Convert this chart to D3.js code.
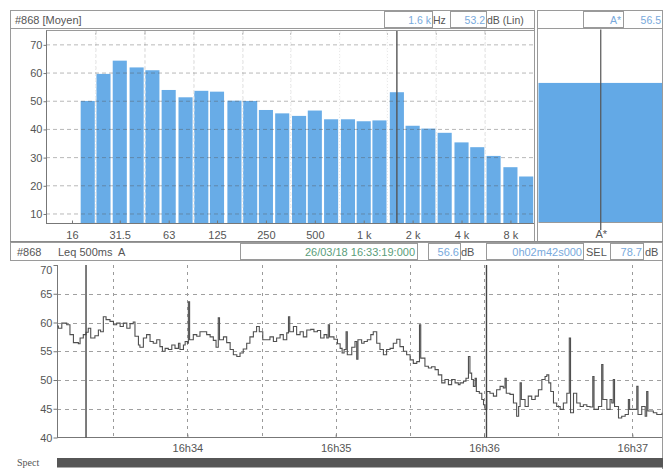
<!DOCTYPE html>
<html>
<head>
<meta charset="utf-8">
<script src="https://cdn.jsdelivr.net/npm/d3@7"></script>
<style>
  body { margin: 0; background: #fff; }
  svg { display: block; font-family: "Liberation Sans", Arial, sans-serif; }
</style>
</head>
<body>
<svg id="chart" width="666" height="469"></svg>
<script>
// ---- 1/3-octave average spectrum, dB (Lin) ----
const bandFreqs  = [20, 25, 31.5, 40, 50, 63, 80, 100, 125, 160, 200, 250, 315, 400, 500, 630, 800,
                    1000, 1250, 1600, 2000, 2500, 3150, 4000, 5000, 6300, 8000, 10000];
const bandLevels = [50.1, 59.7, 64.4, 62.0, 61.0, 54.0, 51.4, 53.7, 53.4, 50.2, 50.1, 46.9, 45.7, 44.8, 46.7, 43.6, 43.6,
                    42.9, 43.2, 53.2, 41.3, 40.3, 38.8, 35.4, 33.7, 30.6, 26.6, 23.3];
const octaveTicks  = [16, 31.5, 63, 125, 250, 500, 1000, 2000, 4000, 8000];
const octaveLabels = ["16", "31.5", "63", "125", "250", "500", "1 k", "2 k", "4 k", "8 k"];
const octaveEdges  = [22.4, 45, 90, 180, 355, 710, 1400, 2800, 5600];
const spectrumTicks = [10, 20, 30, 40, 50, 60, 70];
const cursorFreq = 1600, cursorFreqText = "1.6 k", cursorLevelText = "53.2";
const globalLabel = "A*", globalLevel = 56.5, globalText = "56.5";

// ---- Leq 500ms A time history (seconds after 16:33:00) ----
const leqSecs = [
  7.3, 7.8, 9.2, 11.2, 12.5, 13.9, 15.9, 16.6, 17.9, 19.0,
  19.9, 20.9, 22.6, 24.0, 24.9, 26.0, 27.1, 28.7, 30.1, 31.4,
  32.8, 34.1, 35.5, 36.8, 38.1, 38.8, 40.2, 40.8, 42.2, 43.5,
  44.9, 46.2, 47.6, 48.9, 49.9, 51.0, 52.3, 53.7, 55.0, 56.4,
  57.0, 58.4, 59.1, 60.0, 60.4, 60.9, 62.4, 63.8, 65.1, 66.5,
  67.8, 69.2, 70.5, 71.6, 72.5, 73.0, 74.6, 75.9, 77.3, 78.6,
  80.0, 81.3, 82.6, 84.0, 85.3, 86.7, 88.0, 89.1, 90.5, 92.1,
  93.4, 94.8, 96.1, 97.5, 98.8, 100.2, 100.9, 101.4, 102.9, 104.2,
  105.6, 106.9, 108.3, 109.9, 111.2, 112.6, 113.9, 115.3, 116.4, 117.0,
  117.5, 119.3, 120.7, 121.8, 122.6, 123.4, 124.2, 124.7, 126.5, 127.8,
  128.5, 129.0, 130.5, 131.5, 132.8, 134.2, 135.2, 136.6, 137.9, 139.3,
  140.6, 142.0, 143.3, 144.7, 146.0, 147.4, 148.7, 150.1, 151.4, 152.8,
  153.9, 154.4, 156.1, 157.5, 158.8, 160.2, 161.5, 162.9, 164.2, 165.6,
  166.9, 168.3, 169.6, 170.3, 171.7, 172.7, 173.7, 174.3, 175.0, 175.7,
  176.4, 176.9, 178.1, 179.1, 179.8, 180.4, 181.1, 182.4, 183.8, 185.1,
  186.5, 187.8, 188.5, 189.0, 190.5, 191.9, 193.2, 194.0, 194.6, 195.1,
  196.6, 197.9, 199.3, 200.7, 202.0, 203.4, 204.7, 205.4, 206.2, 207.0,
  208.1, 209.4, 210.8, 212.1, 213.5, 214.5, 215.0, 216.2, 217.5, 218.9,
  220.2, 221.6, 222.9, 224.0, 224.5, 226.3, 227.6, 228.1, 229.7, 231.0,
  231.7, 232.3, 232.8, 234.4, 235.7, 237.1, 238.4, 238.9, 239.8, 241.8,
  242.3, 243.8, 245.2, 245.8, 246.3, 247.2, 248.5, 249.9, 252.0
];
const leqLevels = [
  59.4, 59.0, 59.9, 59.6, 57.9, 56.5, 56.3, 57.3, 57.9, 58.3,
  59.0, 57.3, 57.7, 58.7, 58.4, 61.0, 60.5, 60.2, 59.6, 59.9,
  59.3, 59.9, 59.0, 59.8, 60.1, 57.6, 56.1, 55.7, 57.3, 57.9,
  56.7, 56.4, 57.0, 55.8, 55.0, 55.5, 55.3, 56.1, 55.5, 56.4,
  55.3, 56.1, 56.7, 56.4, 63.6, 57.0, 57.9, 57.6, 58.4, 58.4,
  57.9, 57.5, 56.9, 55.7, 60.8, 57.0, 57.5, 56.5, 55.3, 54.4,
  54.1, 54.7, 55.4, 56.4, 57.5, 58.4, 59.3, 58.4, 57.0, 57.0,
  57.5, 56.7, 57.3, 57.9, 57.0, 58.2, 61.0, 58.4, 59.3, 57.9,
  58.4, 57.5, 58.7, 58.8, 58.4, 58.6, 57.3, 57.9, 57.3, 59.6,
  57.5, 57.1, 56.3, 55.5, 54.7, 55.3, 58.4, 54.4, 55.7, 56.7,
  53.6, 57.0, 56.4, 56.7, 57.0, 57.9, 58.4, 56.4, 55.3, 54.4,
  55.3, 55.5, 56.4, 57.1, 55.8, 55.0, 54.4, 53.5, 52.9, 53.2,
  59.6, 53.8, 52.4, 52.1, 52.3, 51.8, 50.9, 49.5, 50.1, 49.2,
  50.1, 49.5, 49.2, 49.5, 49.8, 50.3, 54.1, 51.2, 50.1, 48.9,
  50.3, 48.0, 47.7, 46.6, 45.7, 44.9, 48.0, 47.7, 47.2, 48.3,
  48.9, 48.6, 50.3, 47.7, 47.5, 46.0, 43.7, 45.4, 49.5, 46.6,
  45.4, 47.2, 46.6, 47.2, 48.3, 50.1, 50.6, 50.9, 49.5, 48.0,
  46.0, 45.4, 44.9, 46.0, 47.7, 57.3, 44.3, 47.7, 46.0, 45.4,
  45.7, 45.4, 45.3, 50.6, 44.9, 45.4, 52.7, 46.6, 44.9, 46.6,
  46.0, 50.1, 45.4, 43.4, 43.7, 44.0, 46.6, 44.9, 44.9, 48.9,
  44.0, 45.4, 43.7, 48.0, 44.6, 44.6, 44.3, 44.0, 44.3
];
const leqTicks = [40, 45, 50, 55, 60, 65, 70];
const startText = "26/03/18 16:33:19:000", durationText = "0h02m42s000";
const leqText = "56.6", selText = "78.7";
const cursorSecs = [19, 181];
const viewSecs = [7.26, 252.0];

// ---- drawing ----
const svg = d3.select("#chart");
const frame = "#9a9a9a", textCol = "#555", blueTxt = "#78a9dc", greenTxt = "#5a9d7a";
const barFill = "#68ace7";
const baseTime = new Date(2018, 2, 26, 16, 33, 0);
const toTime = s => new Date(baseTime.getTime() + s * 1000);

function hline(g, x1, x2, y, stroke, w, dash) {
  return g.append("line").attr("x1", x1).attr("x2", x2).attr("y1", y).attr("y2", y)
    .attr("stroke", stroke).attr("stroke-width", w || 1).attr("stroke-dasharray", dash || null);
}
function vline(g, x, y1, y2, stroke, w, dash) {
  return g.append("line").attr("x1", x).attr("x2", x).attr("y1", y1).attr("y2", y2)
    .attr("stroke", stroke).attr("stroke-width", w || 1).attr("stroke-dasharray", dash || null);
}
function txt(g, x, y, s, fill, size, anchor) {
  return g.append("text").attr("x", x).attr("y", y).text(s)
    .attr("fill", fill).attr("font-size", size).attr("text-anchor", anchor || "start");
}
function box(g, x, y, w, h) {
  g.append("rect").attr("x", x).attr("y", y).attr("width", w).attr("height", h)
    .attr("fill", "none").attr("stroke", frame).attr("stroke-width", 1);
}

// ===== upper panel: spectrum =====
const gTop = svg.append("g");
const xF = d3.scaleLog().domain([11.07, 11660]).range([46, 537]);
const yS = d3.scaleLinear().domain([6.8, 75.1]).range([223, 30.5]);
const plotT = 30.5, plotB = 223, plotL = 46, plotR = 534;

// header row
box(gTop, 10.5, 10.5, 524, 18);
box(gTop, 537.5, 10.5, 125, 18);
txt(gTop, 15, 23.5, "#868 [Moyen]", textCol, "11px");
box(gTop, 384.5, 11.5, 48, 16);
txt(gTop, 431, 23.5, cursorFreqText, blueTxt, "10.5px", "end");
txt(gTop, 433, 23.5, "Hz", textCol, "10.5px");
box(gTop, 450.5, 11.5, 36, 16);
txt(gTop, 485, 23.5, cursorLevelText, blueTxt, "10.5px", "end");
txt(gTop, 487, 23.5, "dB (Lin)", textCol, "10.5px");
box(gTop, 583.5, 11.5, 40, 16);
txt(gTop, 621, 23.5, globalLabel, blueTxt, "10.5px", "end");
txt(gTop, 661, 23.5, globalText, blueTxt, "10.5px", "end");

// panel borders
vline(gTop, 10.5, 10.5, 242, frame);
vline(gTop, 662.5, 10.5, 469, frame);
vline(gTop, 534.5, 10.5, 242, frame);
vline(gTop, 537.5, 10.5, 242, frame);
hline(gTop, 10, 663, 242, "#8a8a8a", 2);

// vertical gridlines under bars (octave band edges)
octaveEdges.forEach(f => {
  vline(gTop, xF(f), plotT, plotB, "#a8a8a8", 1, "3,3");
  vline(gTop, xF(f), plotT, plotT + 4, "#888", 1);
});

// bars
gTop.append("g").selectAll("rect").data(bandFreqs).join("rect")
  .attr("x", (f) => xF(f * Math.pow(2, -1 / 6)) + 1.1)
  .attr("width", (f) => xF(f * Math.pow(2, 1 / 6)) - xF(f * Math.pow(2, -1 / 6)) - 2.2)
  .attr("y", (f, i) => yS(bandLevels[i]))
  .attr("height", (f, i) => plotB - yS(bandLevels[i]))
  .attr("fill", barFill);

// gridlines over bars
octaveEdges.forEach(f => vline(gTop, xF(f), plotT, plotB, "#ffffff", 1, "3,3"));
spectrumTicks.forEach(v => hline(gTop, plotL, plotR, yS(v), "#555", 1, "4,3").attr("stroke-opacity", 0.42));

// frequency cursor
vline(gTop, xF(cursorFreq), plotT, plotB, "#555", 1.4);

// axes
hline(gTop, plotL, plotR, plotT, frame);
const yAxisTop = gTop.append("g").attr("transform", `translate(${plotL + 0.5},0)`)
  .call(d3.axisLeft(yS).tickValues(spectrumTicks).tickSize(3).tickPadding(1).tickFormat(d3.format("d")));
const xAxisTop = gTop.append("g").attr("transform", `translate(0,${plotB + 0.5})`)
  .call(d3.axisBottom(xF).tickValues(octaveTicks).tickSize(-3).tickPadding(8)
        .tickFormat((d, i) => octaveLabels[i]));
[yAxisTop, xAxisTop].forEach(a => {
  a.select(".domain").attr("stroke", "#777");
  a.selectAll(".tick line").attr("stroke", "#777");
  a.selectAll("text").attr("fill", textCol).attr("font-size", "11px")
    .attr("font-family", "'Liberation Sans', Arial, sans-serif");
});
xAxisTop.select(".domain").attr("d", `M${plotL},0H${plotR}`);
yAxisTop.select(".domain").attr("d", `M0,${plotT}V${plotB}`);

// right panel: global A-weighted level
const gx0 = 538.5, gx1 = 662;
gTop.append("rect").attr("x", gx0).attr("width", gx1 - gx0)
  .attr("y", yS(globalLevel)).attr("height", plotB - 1 - yS(globalLevel)).attr("fill", "#63a9e6");
hline(gTop, gx0, gx1, plotB - 0.5, frame);
vline(gTop, (gx0 + gx1) / 2 + 0.5, 29.5, 230, "#555", 1.2);
txt(gTop, (gx0 + gx1) / 2 + 1, 237.5, globalLabel, textCol, "11px", "middle");

// ===== lower panel: Leq time history =====
const gBot = svg.append("g");
const xT = d3.scaleTime().domain(viewSecs.map(toTime)).range([57, 662]);
const yL = d3.scaleLinear().domain([40, 70]).range([437.5, 265]);
const bL = 57, bR = 662, bT = 265, bB = 437.5;

// header row
box(gBot, 10.5, 242.5, 652, 18);
txt(gBot, 17, 255.5, "#868", textCol, "11px");
txt(gBot, 58, 255.5, "Leq 500ms  A", textCol, "11px").style("white-space", "pre");
box(gBot, 240.5, 243.5, 177, 16);
txt(gBot, 415, 255.5, startText, greenTxt, "11px", "end");
box(gBot, 428.5, 243.5, 32, 16);
txt(gBot, 459, 255.5, leqText, blueTxt, "11px", "end");
txt(gBot, 461, 255.5, "dB", textCol, "11px");
box(gBot, 486.5, 243.5, 97, 16);
txt(gBot, 582, 255.5, durationText, blueTxt, "11px", "end");
txt(gBot, 586, 255.5, "SEL", textCol, "11px");
box(gBot, 610.5, 243.5, 33, 16);
txt(gBot, 642, 255.5, selText, blueTxt, "11px", "end");
txt(gBot, 645, 255.5, "dB", textCol, "11px");

// gridlines
const halfMinutes = d3.timeSecond.every(30).range(xT.domain()[0], xT.domain()[1]);
halfMinutes.forEach(d => vline(gBot, Math.round(xT(d)) + 0.5, bT, bB, "#9a9a9a", 1, "3,4"));
[45, 50, 55, 60, 65].forEach(v => hline(gBot, bL, bR, Math.round(yL(v)) + 0.5, "#a0a0a0", 1, "4,4"));

// axes
const yAxisBot = gBot.append("g").attr("transform", `translate(${bL + 0.5},0)`)
  .call(d3.axisLeft(yL).tickValues(leqTicks).tickSize(4).tickPadding(1).tickFormat(d3.format("d")));
const minutes = d3.timeMinute.every(1).range(xT.domain()[0], xT.domain()[1]);
const xAxisBot = gBot.append("g").attr("transform", `translate(0,${bB})`)
  .call(d3.axisBottom(xT).tickValues(minutes).tickSize(-3).tickPadding(7)
        .tickFormat(d3.timeFormat("%Hh%M")));
[yAxisBot, xAxisBot].forEach(a => {
  a.select(".domain").attr("stroke", "#777");
  a.selectAll(".tick line").attr("stroke", "#777");
  a.selectAll("text").attr("fill", textCol).attr("font-size", "11px")
    .attr("font-family", "'Liberation Sans', Arial, sans-serif");
});
yAxisBot.select(".domain").attr("d", `M0,${bT}V${bB}`);
xAxisBot.select(".domain").attr("d", `M${bL},0H${bR}`);
yAxisBot.selectAll(".tick").filter(d => d === 70).select("text").attr("dy", "0.75em");
vline(gBot, bR + 0.5, bT, bB, frame);

// Leq line
const pts = leqSecs.map((s, i) => [toTime(s), leqLevels[i]]);
gBot.append("path").datum(pts)
  .attr("fill", "none").attr("stroke", "#505050").attr("stroke-width", 1.1)
  .attr("d", d3.line().x(d => xT(d[0])).y(d => yL(d[1])).curve(d3.curveStepAfter));

// selection cursors
cursorSecs.forEach(s => vline(gBot, xT(toTime(s)), bT, bB, "#444", 1.4));

// spectrogram strip
txt(gBot, 17, 466, "Spect", textCol, "10px").attr("font-family", "'Liberation Serif', serif");
gBot.append("rect").attr("x", bL).attr("y", 458).attr("width", 663 - bL).attr("height", 9.5).attr("fill", "#565656");
</script>
</body>
</html>
